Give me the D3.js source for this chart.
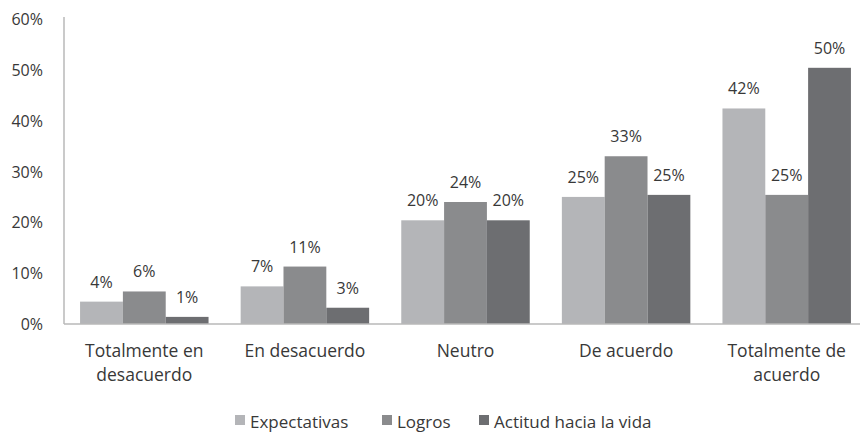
<!DOCTYPE html>
<html>
<head>
<meta charset="utf-8">
<script src="https://cdn.jsdelivr.net/npm/d3@7"></script>
<style>
    body { margin: 0; background: #fff; }
    text { font-family: "Open Sans", sans-serif; fill: #383838; }
</style>
</head>
<body>
<div id="chart"></div>
<script>
// data
const categories = [["Totalmente en", "desacuerdo"], ["En desacuerdo"], ["Neutro"], ["De acuerdo"], ["Totalmente de", "acuerdo"]];
const seriesNames = ["Expectativas", "Logros", "Actitud hacia la vida"];
const expectativas = [4.4, 7.4, 20.4, 25.0, 42.4];
const logros = [6.4, 11.3, 24.0, 33.0, 25.4];
const actitud = [1.4, 3.2, 20.4, 25.4, 50.4];
const yTicks = [0, 10, 20, 30, 40, 50, 60];

const colors = ["#b4b5b8", "#8a8b8d", "#6d6e71"];
const seriesValues = [expectativas, logros, actitud];

const width = 860, height = 432;
const plot = { left: 64, right: 867, top: 19, bottom: 324 };

const svg = d3.select("#chart").append("svg")
    .attr("width", width)
    .attr("height", height);

const x0 = d3.scaleBand()
    .domain(d3.range(categories.length))
    .range([plot.left, plot.right])
    .paddingInner(0.2)
    .paddingOuter(0.1);

const x1 = d3.scaleBand()
    .domain(d3.range(seriesNames.length))
    .range([0, x0.bandwidth()]);

const y = d3.scaleLinear()
    .domain([0, 60])
    .range([plot.bottom, plot.top]);

// y axis labels
svg.append("g")
    .selectAll("text")
    .data(yTicks)
    .join("text")
    .attr("x", 43)
    .attr("y", d => y(d) + 6)
    .attr("text-anchor", "end")
    .attr("font-size", 16)
    .text(d => d + "%");

// axis line
svg.append("line")
    .attr("x1", plot.left).attr("x2", plot.left)
    .attr("y1", plot.top - 2).attr("y2", plot.bottom)
    .attr("stroke", "#b8b8b8")
    .attr("stroke-width", 1.5);

// bars
const groups = svg.append("g")
    .selectAll("g")
    .data(categories)
    .join("g")
    .attr("transform", (d, i) => "translate(" + x0(i) + ",0)");

groups.selectAll("rect")
    .data((d, i) => seriesValues.map((s, j) => ({ s: j, v: s[i] })))
    .join("rect")
    .attr("x", d => x1(d.s))
    .attr("width", x1.bandwidth())
    .attr("y", d => y(d.v))
    .attr("height", d => y(0) - y(d.v))
    .attr("fill", d => colors[d.s]);

groups.selectAll("text.val")
    .data((d, i) => seriesValues.map((s, j) => ({ s: j, v: s[i] })))
    .join("text")
    .attr("class", "val")
    .attr("x", d => x1(d.s) + x1.bandwidth() / 2)
    .attr("y", d => y(d.v) - 14)
    .attr("text-anchor", "middle")
    .attr("font-size", 16)
    .text(d => Math.round(d.v) + "%");

svg.append("line")
    .attr("x1", plot.left).attr("x2", width)
    .attr("y1", plot.bottom).attr("y2", plot.bottom)
    .attr("stroke", "#b8b8b8")
    .attr("stroke-width", 1.5);

// category labels
svg.append("g")
    .selectAll("text")
    .data(categories)
    .join("text")
    .attr("x", (d, i) => x0(i) + x0.bandwidth() / 2)
    .attr("y", 357)
    .attr("text-anchor", "middle")
    .attr("font-size", 17.5)
    .selectAll("tspan")
    .data(d => d)
    .join("tspan")
    .attr("x", function () { return this.parentNode.getAttribute("x"); })
    .attr("dy", (d, i) => i === 0 ? 0 : 24)
    .text(d => d);

// legend
const legendX = [235, 382, 479];
const legend = svg.append("g")
    .selectAll("g")
    .data(seriesNames)
    .join("g")
    .attr("transform", (d, i) => "translate(" + legendX[i] + ",415)");

legend.append("rect")
    .attr("width", 10)
    .attr("height", 10)
    .attr("fill", (d, i) => colors[i]);

legend.append("text")
    .attr("x", 15)
    .attr("y", 13)
    .attr("font-size", 17)
    .text(d => d);
</script>
</body>
</html>
